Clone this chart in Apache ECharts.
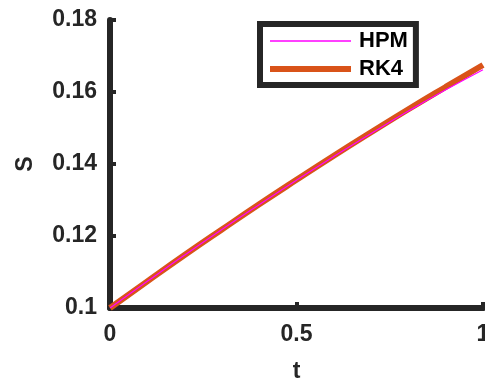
<!DOCTYPE html>
<html>
<head>
<meta charset="utf-8">
<script src="https://cdn.jsdelivr.net/npm/echarts@6/dist/echarts.min.js"></script>
<style>
  html, body { margin: 0; padding: 0; background: #fff; }
  #chart { width: 485px; height: 383px; }
</style>
</head>
<body>
<div id="chart"></div>
<script>
// Time samples and solution values for S(t)
const tValues = [0, 0.1, 0.2, 0.3, 0.4, 0.5, 0.6, 0.7, 0.8, 0.9, 1.0];
const sHPM = [0.1, 0.1074, 0.1147, 0.1218, 0.1287, 0.1355, 0.1421, 0.1485, 0.1547, 0.1606, 0.1662];
const sRK4 = [0.1, 0.1074, 0.1147, 0.1218, 0.1288, 0.1356, 0.1423, 0.1488, 0.1552, 0.1614, 0.1675];
const xTicks = [0, 0.5, 1];
const yTicks = [0.1, 0.12, 0.14, 0.16, 0.18];

const ink = '#262626';
const font = '"Liberation Sans", Arial, sans-serif';
const hpmColor = '#ff00ff';
const rk4Color = '#d95319';

function pairs(xs, ys) {
  return xs.map((x, i) => [x, ys[i]]);
}

const chart = echarts.init(document.getElementById('chart'), null, { renderer: 'canvas' });

chart.setOption({
  animation: false,
  backgroundColor: '#ffffff',
  grid: {
    left: 110, top: 20, right: 2, bottom: 75,
    containLabel: false,
    outerBoundsMode: 'none'
  },
  legend: {
    orient: 'vertical',
    left: 260,
    top: 24,
    padding: [6, 8, 5, 7],
    itemGap: 6,
    itemWidth: 81,
    itemHeight: 15,
    backgroundColor: '#ffffff',
    borderColor: ink,
    borderWidth: 6,
    borderRadius: 0,
    itemStyle: { opacity: 0 },
    textStyle: {
      color: '#000',
      fontFamily: font,
      fontWeight: 'bold',
      fontSize: 22,
      lineHeight: 22,
      padding: [0, 0, 0, 3]
    },
    data: [
      { name: 'HPM', lineStyle: { width: 1.5, color: hpmColor }, itemStyle: { opacity: 0 } },
      { name: 'RK4', lineStyle: { width: 6, color: rk4Color }, itemStyle: { opacity: 0 } }
    ]
  },
  xAxis: {
    type: 'value',
    min: xTicks[0],
    max: xTicks[xTicks.length - 1],
    interval: xTicks[1] - xTicks[0],
    name: 't',
    nameLocation: 'middle',
    nameGap: 52,
    nameTextStyle: { color: ink, fontFamily: font, fontWeight: 'bold', fontSize: 23 },
    axisLine: { lineStyle: { color: ink, width: 6 } },
    axisTick: { inside: true, length: 6, lineStyle: { color: ink, width: 4 } },
    axisLabel: {
      color: ink, fontFamily: font, fontWeight: 'bold', fontSize: 23, margin: 15,
      formatter: v => String(parseFloat(v.toFixed(2)))
    },
    splitLine: { show: false }
  },
  yAxis: {
    type: 'value',
    min: yTicks[0],
    max: yTicks[yTicks.length - 1],
    interval: 0.02,
    name: 'S',
    nameLocation: 'middle',
    nameGap: 73,
    nameTextStyle: { color: ink, fontFamily: font, fontWeight: 'bold', fontSize: 23 },
    axisLine: { show: true, lineStyle: { color: ink, width: 6 } },
    axisTick: { show: true, inside: true, length: 6, lineStyle: { color: ink, width: 4 } },
    axisLabel: {
      color: ink, fontFamily: font, fontWeight: 'bold', fontSize: 23, margin: 13,
      formatter: v => String(parseFloat(v.toFixed(2)))
    },
    splitLine: { show: false }
  },
  series: [
    {
      name: 'HPM',
      type: 'line',
      data: pairs(tValues, sHPM),
      showSymbol: false,
      symbol: 'none',
      smooth: true,
      z: 3,
      lineStyle: { color: hpmColor, width: 1.2 },
      itemStyle: { color: hpmColor }
    },
    {
      name: 'RK4',
      type: 'line',
      data: pairs(tValues, sRK4),
      showSymbol: false,
      symbol: 'none',
      smooth: true,
      z: 2,
      lineStyle: { color: rk4Color, width: 6 },
      itemStyle: { color: rk4Color }
    }
  ]
});
</script>
</body>
</html>
